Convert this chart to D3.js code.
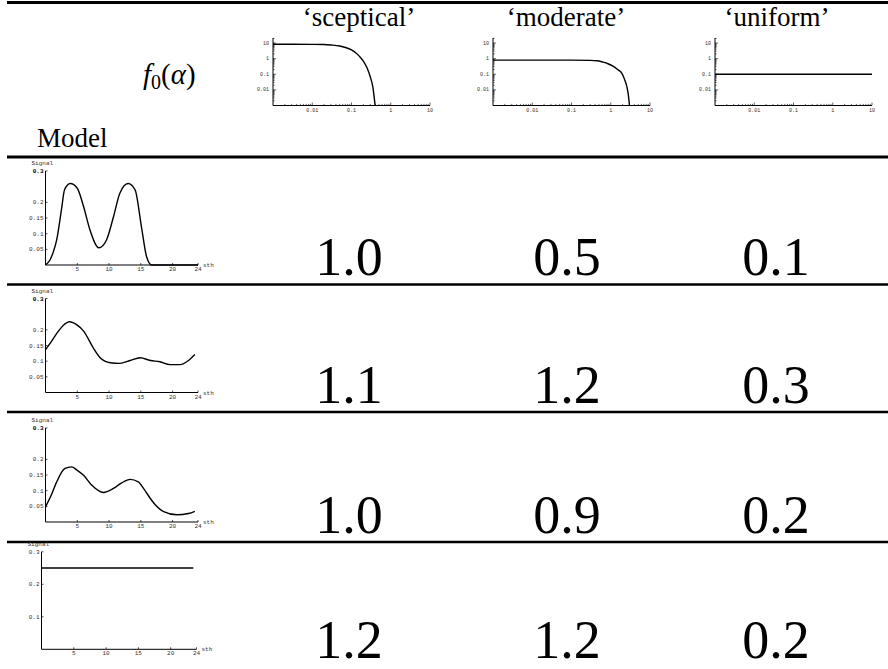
<!DOCTYPE html>
<meta charset="utf-8">
<title>Prior f0(alpha) against signal models</title>
<style>
  body { margin: 0; background: #fff; }
  svg { display: block; }
</style>
<body>
<script src="https://cdn.jsdelivr.net/npm/d3@7"></script>
<script>
//==================================================================
// data
var priorNames = ["‘sceptical’", "‘moderate’", "‘uniform’"];

var scepticalAlpha = [0.001, 0.01, 0.02, 0.03, 0.05, 0.07, 0.1, 0.13, 0.16, 0.2, 0.25, 0.3, 0.35, 0.4];
var scepticalF     = [8.3, 8.2, 8.0, 7.5, 6.5, 5.2, 3.6, 2.3, 1.4, 0.7, 0.25, 0.07, 0.015, 0.001];

var moderateAlpha = [0.001, 0.1, 0.3, 0.45, 0.63, 0.85, 1.14, 1.5, 1.94, 2.3, 2.58, 2.8, 3.0];
var moderateF     = [0.8, 0.8, 0.78, 0.74, 0.6, 0.47, 0.33, 0.2, 0.11, 0.04, 0.0155, 0.005, 0.001];

var uniformAlpha = [0.001, 10];
var uniformF     = [0.1, 0.1];

var model1T = [0, 0.7, 1.2, 1.76, 2.5, 3, 3.9, 5, 6, 7, 8.4, 9.6, 10.7, 11.7, 13, 14.1, 15.1, 15.9, 16.7, 24];
var model1S = [0, 0.016, 0.04, 0.08, 0.175, 0.24, 0.26, 0.245, 0.186, 0.112, 0.055, 0.08, 0.154, 0.229, 0.26, 0.24, 0.122, 0.027, 0, 0];

var model2T = [0, 1, 2, 3, 3.75, 5, 6, 7.5, 8.6, 10.2, 11.7, 13.3, 14.9, 16.5, 18, 19.6, 21.2, 22.5, 23.5];
var model2S = [0.137, 0.165, 0.195, 0.218, 0.226, 0.215, 0.196, 0.143, 0.111, 0.095, 0.093, 0.102, 0.111, 0.102, 0.098, 0.089, 0.089, 0.102, 0.121];

var model3T = [0, 1, 1.76, 3.07, 4.1, 5, 6, 7.3, 9.1, 10.7, 12, 13.3, 14.6, 15.5, 16.5, 17.5, 18.5, 20.7, 22.5, 23.5];
var model3S = [0.048, 0.09, 0.128, 0.171, 0.176, 0.165, 0.149, 0.117, 0.094, 0.107, 0.125, 0.136, 0.128, 0.105, 0.075, 0.05, 0.034, 0.023, 0.027, 0.034];

var model4T = [0, 23.5];
var model4S = [0.25, 0.25];

var signalTicks = [0.05, 0.1, 0.15, 0.2, 0.3];
var flatSignalTicks = [0.1, 0.2, 0.3];
var timeTicks = [5, 10, 15, 20, 24];
var alphaTicks = [0.01, 0.1, 1, 10];

var resultRows = [["1.0", "0.5", "0.1"],
                  ["1.1", "1.2", "0.3"],
                  ["1.0", "0.9", "0.2"],
                  ["1.2", "1.2", "0.2"]];

//==================================================================
var width = 888,
    height = 669;

var svg = d3.select("body").append("svg")
    .attr("width", width)
    .attr("height", height);

var serif = "'Liberation Serif', 'Times New Roman', serif",
    mono = "'Liberation Mono', 'Courier New', monospace";

// table rules
var ruleY = [157, 284.5, 412, 542];
svg.append("line").attr("x1", 7).attr("x2", width).attr("y1", 2.5).attr("y2", 2.5)
    .style("stroke", "#000").style("stroke-width", 3);
ruleY.forEach(function(y, i) {
  svg.append("line").attr("x1", 7).attr("x2", width).attr("y1", y).attr("y2", y)
      .style("stroke", "#000").style("stroke-width", i == 0 ? 3 : 2.6);
});

// header=============================================================
var headCenters = [359, 566, 777];
priorNames.forEach(function(name, i) {
  svg.append("text")
      .attr("x", headCenters[i]).attr("y", 26)
      .attr("text-anchor", "middle")
      .style("font-family", serif).style("font-size", "27px")
      .text(name);
});

var f0 = svg.append("text")
    .attr("x", 143).attr("y", 84)
    .style("font-family", serif).style("font-size", "29px");
f0.append("tspan").style("font-style", "italic").text("f");
f0.append("tspan").attr("dy", 5).style("font-size", "20px").text("0");
f0.append("tspan").attr("dy", -5).text("(");
f0.append("tspan").style("font-style", "italic").text("α");
f0.append("tspan").text(")");

svg.append("text")
    .attr("x", 37).attr("y", 147)
    .style("font-family", serif).style("font-size", "27px")
    .text("Model");

// small log-log plots of the priors
var priorLeft = [273, 493, 715];
var priorData = [[scepticalAlpha, scepticalF], [moderateAlpha, moderateF], [uniformAlpha, uniformF]];
var fmtAlpha = function(v) { return v >= 1 ? d3.format("d")(v) : String(v); };

priorLeft.forEach(function(left, i) {
  var x = d3.scaleLog().domain([0.001, 10]).range([left, left + 157]);
  var y = d3.scaleLog().domain([0.001, 21]).range([105.5, 38]);
  var g = svg.append("g");

  var minors = [];
  for (var d = -3; d <= 1; d++)
    for (var k = 1; k <= 9; k++) minors.push(k * Math.pow(10, d));

  minors.filter(function(v) { return v > 0.001 && v <= 10; }).forEach(function(v) {
    var major = alphaTicks.indexOf(+v.toPrecision(3)) >= 0;
    g.append("line").attr("x1", x(v)).attr("x2", x(v))
        .attr("y1", 105.5).attr("y2", 105.5 - (major ? 3 : 1.6))
        .style("stroke", "#000").style("stroke-width", 0.6);
  });
  minors.filter(function(v) { return v > 0.001 && v <= 21; }).forEach(function(v) {
    var major = alphaTicks.indexOf(+v.toPrecision(3)) >= 0;
    g.append("line").attr("x1", left).attr("x2", left + (major ? 3 : 1.6))
        .attr("y1", y(v)).attr("y2", y(v))
        .style("stroke", "#000").style("stroke-width", 0.6);
  });

  g.append("line").attr("x1", left).attr("x2", left + 157).attr("y1", 105.5).attr("y2", 105.5)
      .style("stroke", "#000").style("stroke-width", 1);
  g.append("line").attr("x1", left).attr("x2", left).attr("y1", 38).attr("y2", 105.5)
      .style("stroke", "#000").style("stroke-width", 1);

  alphaTicks.forEach(function(v) {
    g.append("text").attr("x", x(v)).attr("y", 111.5)
        .attr("text-anchor", "middle")
        .style("font-family", mono).style("font-size", "5px").style("fill", "#333")
        .text(fmtAlpha(v));
    g.append("text").attr("x", left - 4).attr("y", y(v) + 1.6)
        .attr("text-anchor", "end")
        .style("font-family", mono).style("font-size", "5px").style("fill", "#333")
        .text(fmtAlpha(v));
  });

  var pts = priorData[i][0].map(function(a, j) { return [a, priorData[i][1][j]]; });
  g.append("path")
      .datum(pts)
      .attr("d", d3.line()
          .curve(d3.curveMonotoneX)
          .x(function(d) { return x(d[0]); })
          .y(function(d) { return y(d[1]); }))
      .style("fill", "none").style("stroke", "#000").style("stroke-width", 1.4);
});

// model rows=========================================================
var models = [[model1T, model1S], [model2T, model2S], [model3T, model3S], [model4T, model4S]];
var rowBase = [265, 392.5, 522, 649.3];
var numCenters = [349, 567, 776];
var numBase = [275, 403, 532.5, 658];

models.forEach(function(m, r) {
  var flat = r == 3;
  var left = flat ? 41.5 : 45.5,
      w = flat ? 155 : 152.5,
      h = flat ? 97.5 : 94,
      base = rowBase[r];
  var x = d3.scaleLinear().domain([0, 24]).range([left, left + w]);
  var y = d3.scaleLinear().domain([0, 0.3]).range([base, base - h]);
  var yTicks = flat ? flatSignalTicks : signalTicks;
  var g = svg.append("g");

  g.append("line").attr("x1", left).attr("x2", left + w).attr("y1", base).attr("y2", base)
      .style("stroke", "#000").style("stroke-width", 1);
  g.append("line").attr("x1", left).attr("x2", left).attr("y1", base).attr("y2", base - h)
      .style("stroke", "#000").style("stroke-width", 1);

  timeTicks.forEach(function(t) {
    g.append("line").attr("x1", x(t)).attr("x2", x(t)).attr("y1", base).attr("y2", base - 2)
        .style("stroke", "#000").style("stroke-width", 0.7);
    g.append("text").attr("x", x(t)).attr("y", base + 6)
        .attr("text-anchor", "middle")
        .style("font-family", mono).style("font-size", "6px").style("fill", "#333")
        .text(t);
  });
  g.append("text").attr("x", left + w + 5).attr("y", base + 2)
      .style("font-family", mono).style("font-size", "6px").style("fill", "#333")
      .text("sth");

  yTicks.forEach(function(v) {
    g.append("line").attr("x1", left).attr("x2", left + 2).attr("y1", y(v)).attr("y2", y(v))
        .style("stroke", "#000").style("stroke-width", 0.7);
    g.append("text").attr("x", left - 2).attr("y", y(v) + 2)
        .attr("text-anchor", "end")
        .style("font-family", mono).style("font-size", "6px")
        .style("fill", (v == 0.3 && !flat) ? "#000" : "#333")
        .style("font-weight", (v == 0.3 && !flat) ? "bold" : "normal")
        .text(v);
  });
  g.append("text").attr("x", left - 14).attr("y", base - h - 6)
      .style("font-family", mono).style("font-size", "6px").style("fill", "#333")
      .text("Signal");

  var pts = m[0].map(function(t, j) { return [t, m[1][j]]; });
  g.append("path")
      .datum(pts)
      .attr("d", d3.line()
          .curve(d3.curveMonotoneX)
          .x(function(d) { return x(d[0]); })
          .y(function(d) { return y(d[1]); }))
      .style("fill", "none").style("stroke", "#000").style("stroke-width", 1.4);

  resultRows[r].forEach(function(s, c) {
    svg.append("text")
        .attr("x", numCenters[c]).attr("y", numBase[r])
        .attr("text-anchor", "middle")
        .style("font-family", serif).style("font-size", "54px")
        .text(s);
  });
});
</script>
